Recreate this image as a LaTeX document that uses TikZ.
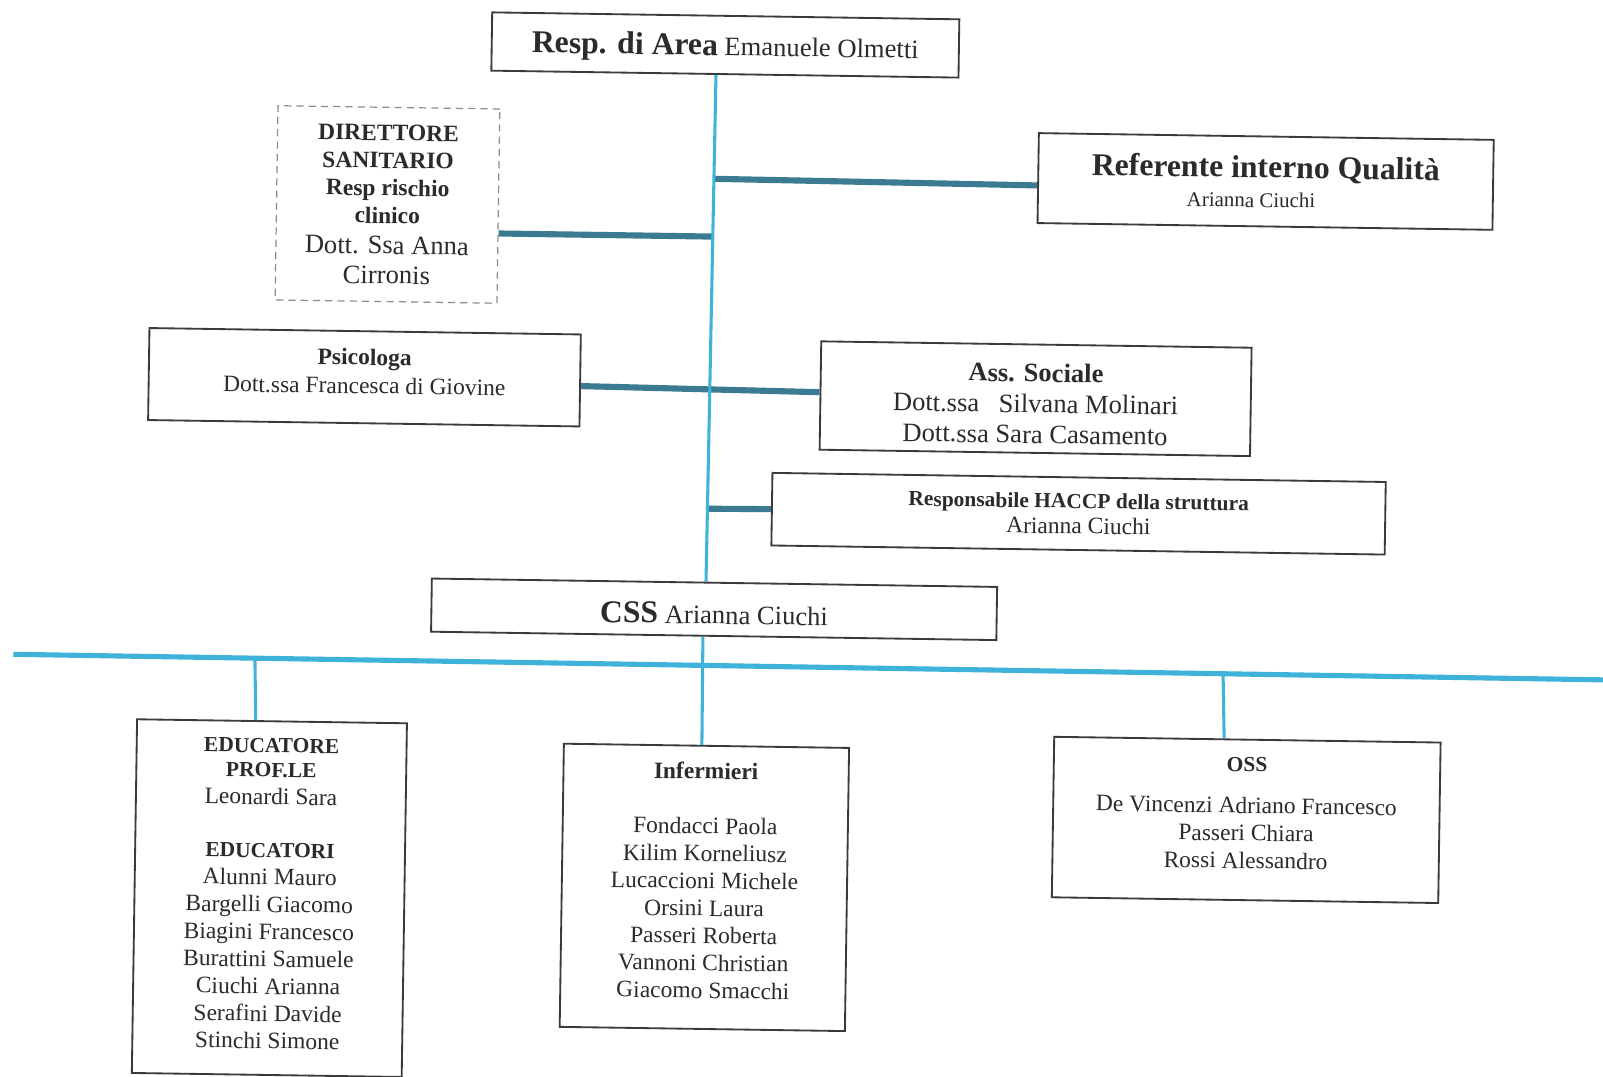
\documentclass[tikz,border=0pt]{standalone}
\usepackage{fontspec}
\setmainfont{Liberation Serif}
\usetikzlibrary{calc}
\definecolor{txt}{HTML}{2B2B2B}
\definecolor{boxc}{HTML}{3A3A3A}
\definecolor{dashc}{HTML}{8C8C8C}
\definecolor{lblue}{HTML}{3FB2D9}
\definecolor{dteal}{HTML}{3B7A91}
\newcommand\fsz[2]{\fontsize{#1}{#2}\selectfont}
\newcommand\dnstrut[1]{\rule[-#1]{0pt}{#1}}
\newcommand\upstrut[1]{\rule{0pt}{#1}}
\begin{document}
\begin{tikzpicture}[x=1pt,y=-1pt,
  box/.style={draw=boxc, line width=1.8pt, rotate=-0.85, align=center, inner sep=0pt, text=txt},
  dbox/.style={box, draw=dashc, line width=1.2pt, dash pattern=on 7pt off 5pt},
  spine/.style={draw=lblue, line width=3pt},
  bus/.style={draw=lblue, line width=5pt},
  link/.style={draw=dteal, line width=6pt}]
\useasboundingbox (0,0) rectangle (1568,1053);
\fill[white] (0,0) rectangle (1568,1053);

\node[box, minimum width=457pt, minimum height=57pt, font=\fsz{26}{30}] (top) at (709.5,44)
  {\upstrut{27pt}{\fsz{31}{36}\bfseries Resp. di Area} Emanuele Olmetti};

\node[dbox, minimum width=217pt, minimum height=190pt, font=\fsz{23}{27}\bfseries] (dir) at (379,200)
  {DIRETTORE\\ SANITARIO\\ Resp rischio\\ clinico\\[3pt]
   {\fsz{26}{29}\mdseries Dott. Ssa Anna}\\[2pt] {\fsz{26}{29}\mdseries Cirronis}};

\node[box, minimum width=445pt, minimum height=88pt, font=\fsz{20.5}{29}] (ref) at (1238,177.5)
  {{\fsz{31}{33}\bfseries Referente interno Qualità}\\
   Arianna Ciuchi\rule{28pt}{0pt}};

\node[box, minimum width=422pt, minimum height=90pt, font=\fsz{23}{28}] (psi) at (356.5,369)
  {{\bfseries Psicologa}\\ Dott.ssa Francesca di Giovine\dnstrut{12pt}};

\node[box, minimum width=421pt, minimum height=106pt, font=\fsz{26}{30}] (ass) at (1013,390)
  {\upstrut{27.5pt}{\bfseries Ass. Sociale}\\ Dott.ssa\hspace{19pt}Silvana Molinari\\ Dott.ssa Sara Casamento};

\node[box, minimum width=600pt, minimum height=71pt, font=\fsz{23}{25}] (haccp) at (1055,502.5)
  {{\fsz{21}{24}\bfseries Responsabile HACCP della struttura}\\ Arianna Ciuchi};

\node[box, minimum width=553pt, minimum height=52pt, font=\fsz{26}{30}] (css) at (698.5,596)
  {\upstrut{29pt}{\fsz{31}{34}\bfseries CSS} Arianna Ciuchi};

\node[box, minimum width=264pt, minimum height=346pt, font=\fsz{23}{26.7}] (edu) at (263.5,878.5)
  {{\fsz{21}{24}\bfseries EDUCATORE}\\[-2.7pt] {\fsz{21}{24}\bfseries PROF.LE}\\ Leonardi Sara\\[25.3pt]
   {\fsz{21}{24}\bfseries EDUCATORI}\\ Alunni Mauro\\ Bargelli Giacomo\\ Biagini Francesco\\
   Burattini Samuele\\ Ciuchi Arianna\\ Serafini Davide\\ Stinchi Simone\dnstrut{9pt}};

\node[box, minimum width=279pt, minimum height=277pt, font=\fsz{23}{26.8}] (inf) at (689,868)
  {{\bfseries Infermieri}\\[27pt] Fondacci Paola\\ Kilim Korneliusz\\
   Lucaccioni Michele\\ Orsini Laura\\ Passeri Roberta\\ Vannoni Christian\\ Giacomo Smacchi\dnstrut{14pt}};

\node[box, minimum width=378pt, minimum height=157pt, font=\fsz{23}{27}] (oss) at (1219,802)
  {{\fsz{21}{24}\bfseries OSS}\\[14pt] De Vincenzi Adriano Francesco\\ Passeri Chiara\\ Rossi Alessandro\dnstrut{14pt}};

% spine
\coordinate (s1) at ($(top.south west)!0.481!(top.south east)$);
\coordinate (s2) at ($(css.north west)!0.485!(css.north east)$);

\draw[link] ($(dir.north east)!0.64!(dir.south east)$) -- ($(s1)!0.319!(s2)$);
\draw[link] ($(s1)!0.205!(s2)$) -- ($(ref.north west)!0.58!(ref.south west)$);
\draw[link] ($(psi.north east)!0.56!(psi.south east)$) -- ($(ass.north west)!0.47!(ass.south west)$);
\draw[link] ($(s1)!0.856!(s2)$) -- (haccp.west);
\draw[spine] (s1) -- (s2);

% lower level
\coordinate (busL) at (13,640);
\coordinate (busR) at (1568,665);
\draw[bus] (busL) -- (busR);
\draw[spine] ($(css.south west)!0.481!(css.south east)$) -- ($(inf.north west)!0.484!(inf.north east)$);
\draw[spine] ($(busL)!0.152!(busR)$) -- ($(edu.north west)!0.44!(edu.north east)$);
\draw[spine] ($(busL)!0.761!(busR)$) -- ($(oss.north west)!0.44!(oss.north east)$);
\end{tikzpicture}
\end{document}
